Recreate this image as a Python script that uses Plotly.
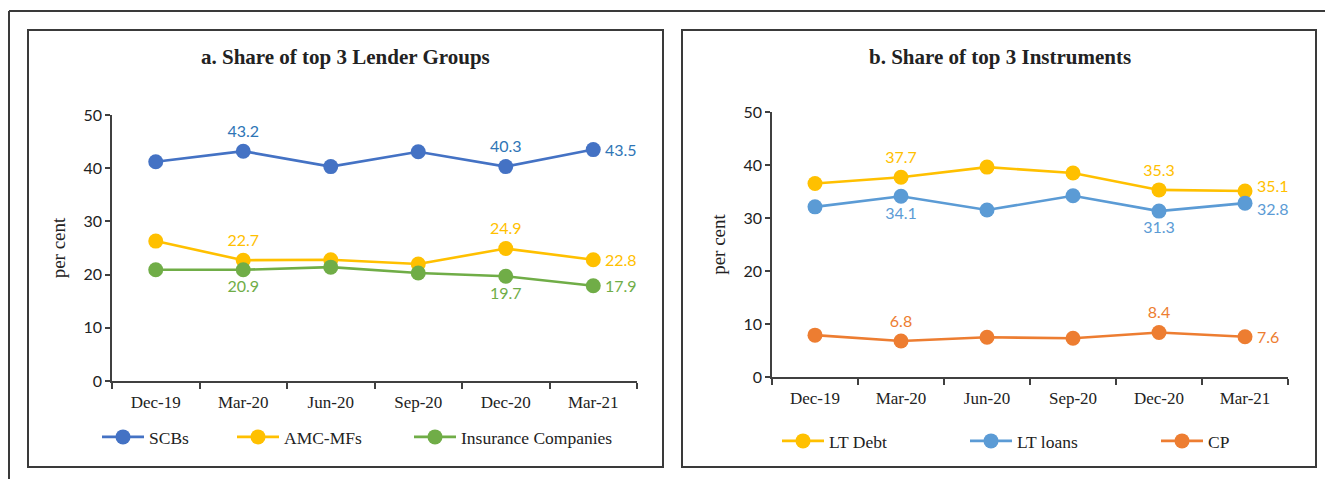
import plotly.graph_objects as go

# Quarter-end periods shared by both panels
quarters = ["Dec-19", "Mar-20", "Jun-20", "Sep-20", "Dec-20", "Mar-21"]

# Panel a: share of top 3 lender groups (per cent)
scbs = [41.2, 43.2, 40.3, 43.1, 40.3, 43.5]
amc_mfs = [26.3, 22.7, 22.8, 22.0, 24.9, 22.8]
insurance = [20.9, 20.9, 21.4, 20.3, 19.7, 17.9]

# Panel b: share of top 3 instruments (per cent)
lt_debt = [36.5, 37.7, 39.6, 38.5, 35.3, 35.1]
lt_loans = [32.1, 34.1, 31.5, 34.2, 31.3, 32.8]
cp = [7.9, 6.8, 7.5, 7.3, 8.4, 7.6]

# Points that carry a value label (the last one is labelled on its right)
labelled = [False, True, False, False, True, False]
END = len(quarters) - 1

W, H = 1325, 479
SERIF = "Liberation Serif"
SANS = "Lato"


def px_x(v):
    return v / W


def px_y(v):
    return 1 - v / H


fig = go.Figure()


def series(name, values, color, label_color, pos_mid, end_shift, xaxis, yaxis, legend):
    text = [f"{v:.1f}" if show else "" for v, show in zip(values, labelled)]
    fig.add_trace(go.Scatter(
        x=quarters, y=values, name=name, mode="lines+markers+text",
        line=dict(color=color, width=2.6),
        marker=dict(color=color, size=15),
        text=text, textposition=pos_mid,
        textfont=dict(family=SANS, size=16, color=label_color),
        xaxis=xaxis, yaxis=yaxis, legend=legend, showlegend=True,
        cliponaxis=False, hoverinfo="x+y+name",
    ))
    # value label to the right of the latest point
    fig.add_annotation(
        x=quarters[END], y=values[END], xref=xaxis, yref=yaxis,
        text=f"{values[END]:.1f}", showarrow=False,
        xanchor="left", yanchor="middle", xshift=10, yshift=end_shift,
        font=dict(family=SANS, size=16, color=label_color),
    )


BLUE, GOLD, GREEN = "#4472C4", "#FFC000", "#70AD47"
LBLUE, ORANGE = "#5B9BD5", "#ED7D31"

series("SCBs", scbs, BLUE, "#2E75B6", "top center", 0, "x", "y", "legend")
series("AMC-MFs", amc_mfs, GOLD, GOLD, "top center", 0, "x", "y", "legend2")
series("Insurance Companies", insurance, GREEN, GREEN, "bottom center", 0, "x", "y", "legend3")

series("LT Debt", lt_debt, GOLD, GOLD, "top center", 5, "x2", "y2", "legend4")
series("LT loans", lt_loans, LBLUE, LBLUE, "bottom center", -5, "x2", "y2", "legend5")
series("CP", cp, ORANGE, ORANGE, "top center", 0, "x2", "y2", "legend6")

AX = "#404040"
xcommon = dict(
    type="category", range=[-0.5, 5.5], showline=True, linecolor=AX, linewidth=1.5,
    ticks="outside", tickson="boundaries", ticklen=6, tickcolor=AX, tickwidth=1.5,
    ticklabelstandoff=5,
    tickfont=dict(family=SERIF, size=17, color="#222"), showgrid=False, zeroline=False,
    fixedrange=True, automargin=False,
)
ycommon = dict(
    range=[0, 50], dtick=10, showline=True, linecolor=AX, linewidth=1.5,
    ticks="outside", ticklen=5, tickcolor=AX, tickwidth=1.5,
    tickfont=dict(family=SANS, size=16, color="#222"), showgrid=False, zeroline=False,
    title=dict(text="per cent", font=dict(family=SERIF, size=19, color="#222"), standoff=13),
    fixedrange=True, automargin=False,
)

fig.update_layout(
    width=W, height=H, margin=dict(l=0, r=0, t=0, b=0, autoexpand=False),
    paper_bgcolor="white", plot_bgcolor="white", showlegend=True,
    xaxis=dict(domain=[px_x(112), px_x(637)], anchor="y", **xcommon),
    yaxis=dict(domain=[px_y(381), px_y(115)], anchor="x", **ycommon),
    xaxis2=dict(domain=[px_x(772), px_x(1288)], anchor="y2", **xcommon),
    yaxis2=dict(domain=[px_y(377), px_y(112)], anchor="x2", **ycommon),
)

# One legend per entry so each sits at its own spot under the panel
legend_spots = {
    "legend": (115, 437), "legend2": (250, 437), "legend3": (427, 437),
    "legend4": (795, 441), "legend5": (983, 441), "legend6": (1174, 441),
}
for key, (mx, my) in legend_spots.items():
    fig.update_layout({key: dict(
        x=px_x(mx - 18), y=px_y(my), xanchor="left", yanchor="middle",
        orientation="h", bgcolor="rgba(0,0,0,0)", borderwidth=0, itemwidth=42,
        font=dict(family=SERIF, size=17.5, color="#222"),
    )})

# Panel titles
for text, cx in [("a. Share of top 3 Lender Groups", 345), ("b. Share of top 3 Instruments", 1000)]:
    fig.add_annotation(
        text=f"<b>{text}</b>", x=px_x(cx), y=px_y(57), xref="paper", yref="paper",
        showarrow=False, xanchor="center", yanchor="middle",
        font=dict(family=SERIF, size=21, color="#222"),
    )

# Outer frame (top and left edges) and the two panel boxes
FRAME = "#3a3a3a"
fig.add_shape(type="line", xref="paper", yref="paper",
              x0=px_x(9), x1=px_x(1330), y0=px_y(11), y1=px_y(11),
              line=dict(color=FRAME, width=2))
fig.add_shape(type="line", xref="paper", yref="paper",
              x0=px_x(9), x1=px_x(9), y0=px_y(11), y1=px_y(485),
              line=dict(color=FRAME, width=2))
for left, right in [(28, 663), (682, 1316)]:
    fig.add_shape(type="rect", xref="paper", yref="paper",
                  x0=px_x(left), x1=px_x(right), y0=px_y(467), y1=px_y(30),
                  line=dict(color=FRAME, width=2), fillcolor="rgba(0,0,0,0)")

fig.write_html("out.html")
